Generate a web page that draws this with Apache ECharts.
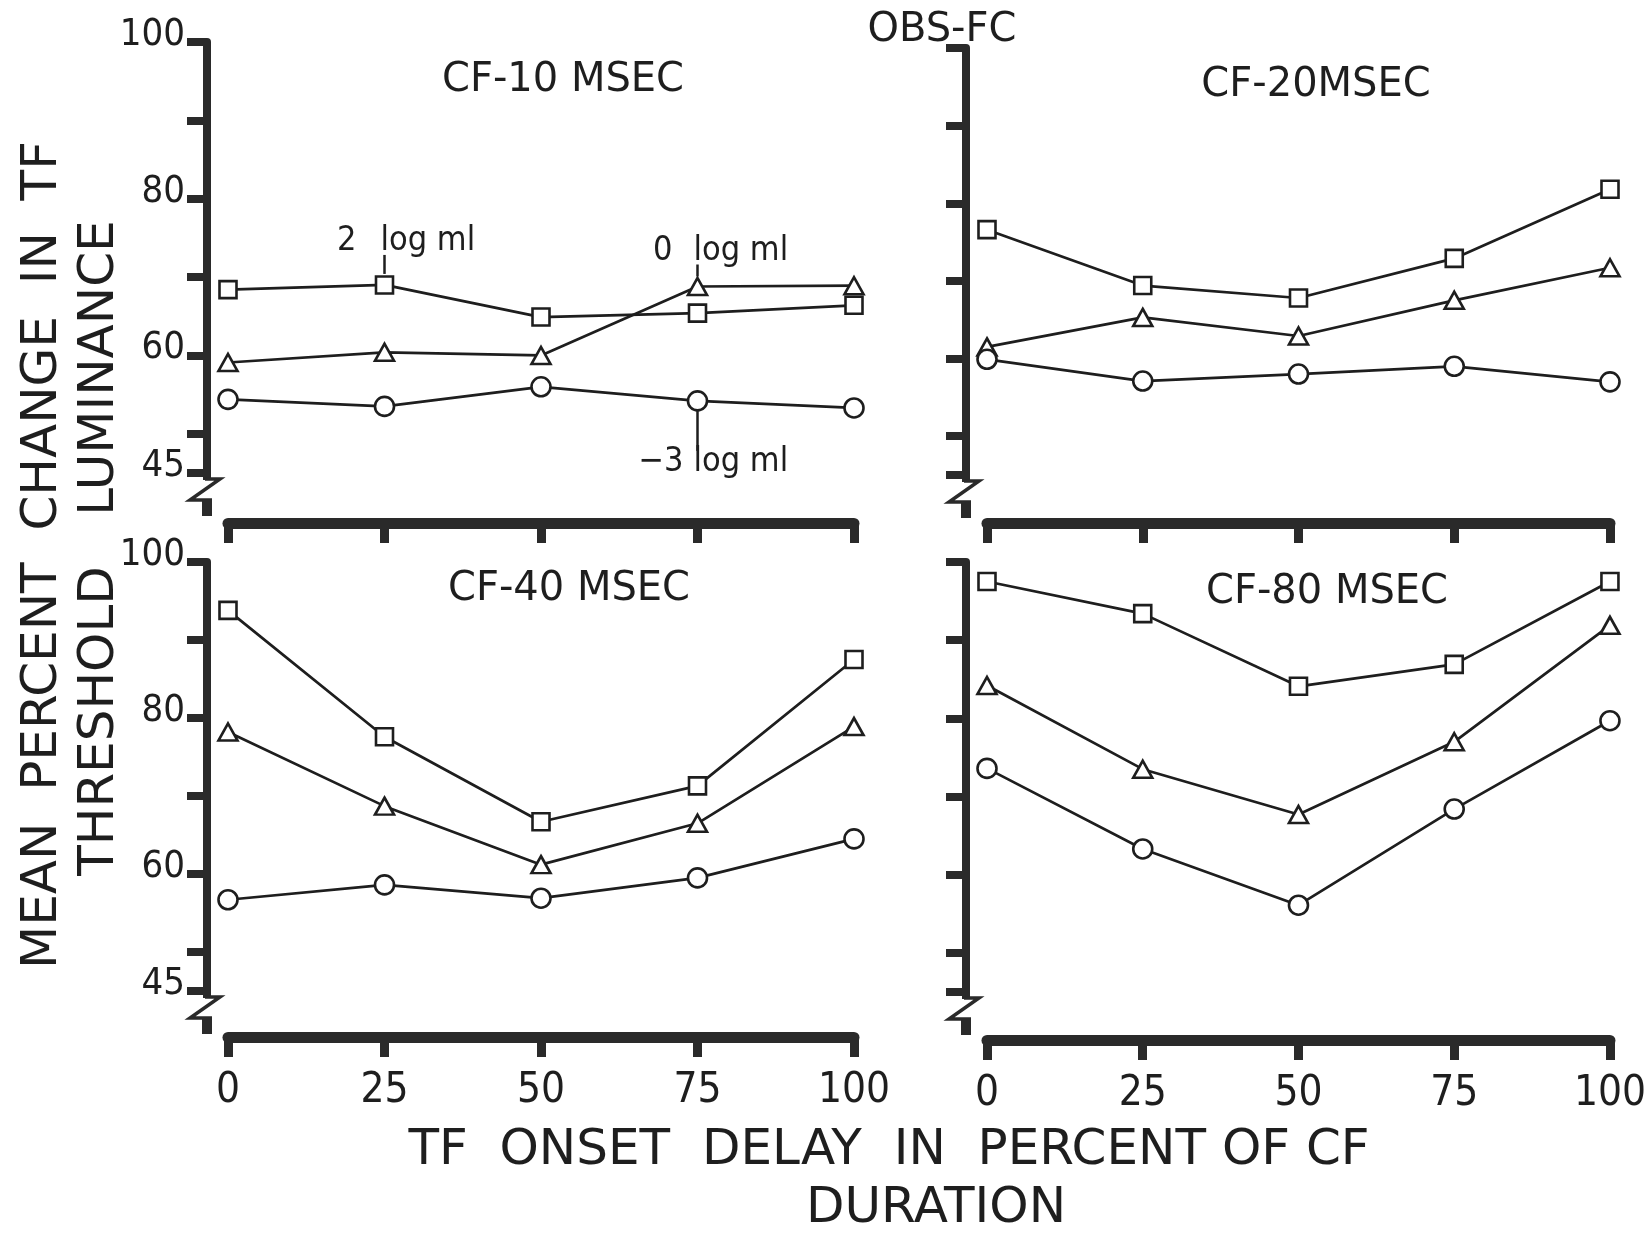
<!DOCTYPE html>
<html>
<head>
<meta charset="utf-8">
<title>OBS-FC: threshold luminance change vs TF onset delay</title>
<script src="https://cdn.jsdelivr.net/npm/echarts@6/dist/echarts.min.js"></script>
<style>
  html, body { margin: 0; padding: 0; background: #ffffff; }
  #chart { width: 1649px; height: 1235px; }
</style>
</head>
<body>
<div id="chart"></div>
<script>
// ---- data -----------------------------------------------------------
// TF onset delay, percent of CF duration
const delayPct = [0, 25, 50, 75, 100];
const xTickValues = [0, 25, 50, 75, 100];
const yTickValues = [45, 50, 60, 70, 80, 90, 100];
const yLabelValues = [45, 60, 80, 100];
const panelTitles = ['CF-10 MSEC', 'CF-20MSEC', 'CF-40 MSEC', 'CF-80 MSEC'];

// mean percent change in TF threshold luminance
// 2 log ml (squares), 0 log ml (triangles), -3 log ml (circles)
const cf10Bright = [68.4, 69.0, 64.9, 65.4, 66.4];
const cf10Mid    = [59.1, 60.4, 60.0, 68.8, 68.9];
const cf10Dim    = [54.4, 53.5, 56.0, 54.2, 53.3];

const cf20Bright = [76.6, 69.4, 67.8, 72.9, 81.8];
const cf20Mid    = [61.5, 65.3, 62.9, 67.5, 71.7];
const cf20Dim    = [59.9, 57.1, 58.0, 59.0, 57.0];

const cf40Bright = [93.8, 77.6, 66.7, 71.3, 87.5];
const cf40Mid    = [78.2, 68.7, 61.2, 66.5, 78.9];
const cf40Dim    = [56.7, 58.6, 56.9, 59.5, 64.5];

const cf80Bright = [97.5, 93.4, 84.1, 86.9, 97.5];
const cf80Mid    = [84.2, 73.5, 67.7, 77.0, 91.9];
const cf80Dim    = [73.6, 63.3, 56.1, 68.4, 79.7];

// ---- styling / layout -------------------------------------------------
const INK = '#1e1e1e';
const AXIS_INK = '#2a2a2a';
const NARROW = "'Liberation Sans Narrow','DejaVu Sans Condensed','Liberation Sans',sans-serif";
const WIDE = "'DejaVu Sans',sans-serif";
const Y_AXIS_OFFSET = 21;

const panels = [
  { grid: { left: 228, top: 42,  width: 626, height: 431 }, xOffset: 50, values: [cf10Bright, cf10Mid, cf10Dim], title: [563, 81] },
  { grid: { left: 987, top: 48,  width: 623, height: 427 }, xOffset: 48, values: [cf20Bright, cf20Mid, cf20Dim], title: [1316, 86] },
  { grid: { left: 228, top: 562, width: 626, height: 429 }, xOffset: 46, values: [cf40Bright, cf40Mid, cf40Dim], title: [569, 590] },
  { grid: { left: 987, top: 562, width: 623, height: 430 }, xOffset: 48, values: [cf80Bright, cf80Mid, cf80Dim], title: [1327, 593] }
];

const markers = [
  { symbol: 'rect', size: 17 },
  { symbol: 'triangle', size: [19, 17] },
  { symbol: 'circle', size: 19 }
];

const chart = echarts.init(document.getElementById('chart'), null, { renderer: 'canvas' });

const grid = [], xAxis = [], yAxis = [], series = [];
panels.forEach((p, i) => {
  grid.push(Object.assign({ containLabel: false }, p.grid));
  const bottomRow = i >= 2;
  const leftCol = i % 2 === 0;
  xAxis.push({
    type: 'value', gridIndex: i, min: 0, max: 100, interval: 25,
    offset: p.xOffset,
    axisLine: { show: true, onZero: false, lineStyle: { color: AXIS_INK, width: 11 } },
    axisTick: { show: true, customValues: xTickValues, length: 20, lineStyle: { color: AXIS_INK, width: 9 } },
    axisLabel: { show: bottomRow, customValues: xTickValues, margin: 33, fontSize: 42, fontFamily: NARROW, color: INK },
    splitLine: { show: false }
  });
  yAxis.push({
    type: 'value', gridIndex: i, min: 45, max: 100,
    offset: Y_AXIS_OFFSET,
    axisLine: { show: true, onZero: false, lineStyle: { color: AXIS_INK, width: 8 } },
    axisTick: { show: true, customValues: yTickValues, length: 20, lineStyle: { color: AXIS_INK, width: 8 } },
    axisLabel: {
      show: leftCol, customValues: yLabelValues, margin: 22,
      fontSize: 38, fontFamily: NARROW, color: INK,
      verticalAlign: 'bottom', lineHeight: 14
    },
    splitLine: { show: false }
  });
  p.values.forEach((vals, k) => {
    series.push({
      type: 'line', xAxisIndex: i, yAxisIndex: i,
      data: delayPct.map((d, j) => [d, vals[j]]),
      symbol: markers[k].symbol, symbolSize: markers[k].size,
      showAllSymbol: true,
      lineStyle: { color: INK, width: 2.7 },
      itemStyle: { color: '#ffffff', borderColor: INK, borderWidth: 2.6 },
      emphasis: { disabled: true },
      z: 3 + k
    });
  });
});

chart.setOption({
  animation: false,
  backgroundColor: '#ffffff',
  grid, xAxis, yAxis, series
});

// ---- decorations: titles, axis breaks, level labels --------------------
const graphic = [];
const text = (str, x, y, size, family, extra) => Object.assign({
  type: 'text', x, y, z: 50,
  style: { text: str, fill: INK, font: size + 'px ' + family, align: 'center', verticalAlign: 'middle' }
}, extra || {});

graphic.push(text('OBS-FC', 942, 31, 40, WIDE));
panels.forEach((p, i) => graphic.push(text(panelTitles[i], p.title[0], p.title[1], 40, WIDE)));

// vertical axis title, two lines reading bottom to top
graphic.push(text('MEAN  PERCENT  CHANGE  IN  TF', 43, 555, 50, WIDE, { rotation: Math.PI / 2 }));
graphic.push(text('THRESHOLD', 100, 721, 50, WIDE, { rotation: Math.PI / 2 }));
graphic.push(text('LUMINANCE', 100, 368, 50, WIDE, { rotation: Math.PI / 2 }));
// horizontal axis title
graphic.push(text('TF  ONSET  DELAY  IN  PERCENT OF CF', 889, 1151, 50, WIDE));
graphic.push(text('DURATION', 936, 1209, 50, WIDE));

// broken-axis marks below the 45 tick of every y axis
panels.forEach((p, i) => {
  const base = chart.convertToPixel({ gridIndex: i }, [0, 45]);
  const ax = base[0] - Y_AXIS_OFFSET;
  const yb = base[1];
  graphic.push({ type: 'rect', z: 40, shape: { x: ax - 4, y: yb - 1, width: 8, height: 8 }, style: { fill: AXIS_INK } });
  graphic.push({
    type: 'polyline', z: 40,
    shape: { points: [[ax - 2, yb + 6], [ax + 13, yb + 6], [ax - 17, yb + 27], [ax + 5, yb + 27]] },
    style: { stroke: AXIS_INK, lineWidth: 3.5, fill: null, lineJoin: 'miter' }
  });
  graphic.push({ type: 'rect', z: 40, shape: { x: ax - 5, y: yb + 26, width: 10, height: 17 }, style: { fill: AXIS_INK } });
});

// level labels in the CF-10 panel, each with a leader to its curve
const labelFont = '34px ' + NARROW;
function levelLabel(prefix, gapPx, pt, dyText, lineFrom, lineTo) {
  graphic.push({ type: 'line', z: 45, shape: { x1: pt[0], y1: pt[1] + lineFrom, x2: pt[0], y2: pt[1] + lineTo }, style: { stroke: INK, lineWidth: 2.5 } });
  graphic.push({ type: 'text', z: 45, x: pt[0] - 4, y: pt[1] + dyText, style: { text: 'log ml', fill: INK, font: labelFont, align: 'left', verticalAlign: 'middle' } });
  graphic.push({ type: 'text', z: 45, x: pt[0] - gapPx, y: pt[1] + dyText, style: { text: prefix, fill: INK, font: labelFont, align: 'right', verticalAlign: 'middle' } });
}
levelLabel('2', 28, chart.convertToPixel({ gridIndex: 0 }, [delayPct[1], cf10Bright[1]]), -44, -11, -30);
levelLabel('0', 25, chart.convertToPixel({ gridIndex: 0 }, [delayPct[3], cf10Mid[3]]), -35, -10, -22);
levelLabel('\u22123', 14, chart.convertToPixel({ gridIndex: 0 }, [delayPct[3], cf10Dim[3]]), 61, 10, 50);

chart.setOption({ graphic });
</script>
</body>
</html>
